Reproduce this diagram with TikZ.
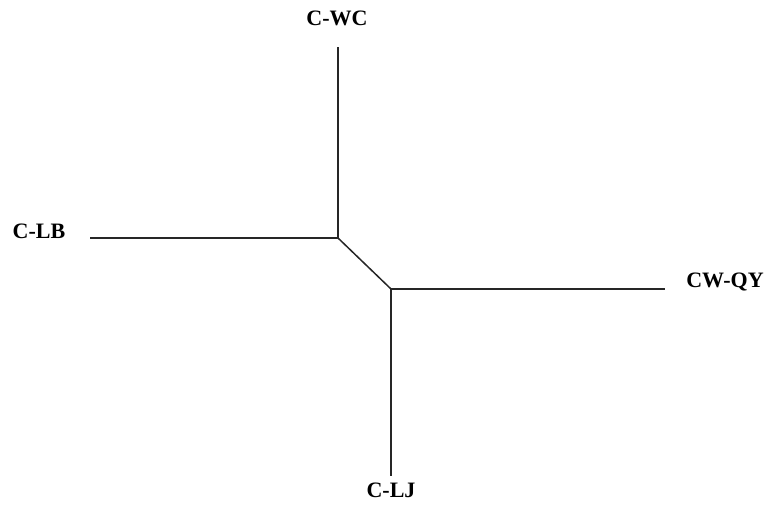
\documentclass[tikz,border=0pt]{standalone}
\usepackage{fontspec}
\setmainfont{Liberation Serif}
\begin{document}
\begin{tikzpicture}[x=1pt,y=-1pt,
  lbl/.style={font=\bfseries\fontsize{22}{26}\selectfont, inner sep=0pt},
  edge/.style={line width=1.5pt, black!85}]
\useasboundingbox (0,0) rectangle (767,504);
\coordinate (j1) at (338,238);
\coordinate (j2) at (391,289);
\coordinate (tWC) at (338,47);
\coordinate (tLB) at (90,238);
\coordinate (tQY) at (665,289);
\coordinate (tLJ) at (391,476);
\node[lbl] (WC) at (337,18) {C-WC};
\node[lbl] (LB) at (39,231) {C-LB};
\node[lbl] (QY) at (725,282) {CW-QY};
\node[lbl] (LJ) at (391,490) {C-LJ};
\draw[edge] (tWC) -- (j1);
\draw[edge] (tLB) -- (j1);
\draw[edge] (j1) -- (j2);
\draw[edge] (j2) -- (tQY);
\draw[edge] (j2) -- (tLJ);
\end{tikzpicture}
\end{document}
